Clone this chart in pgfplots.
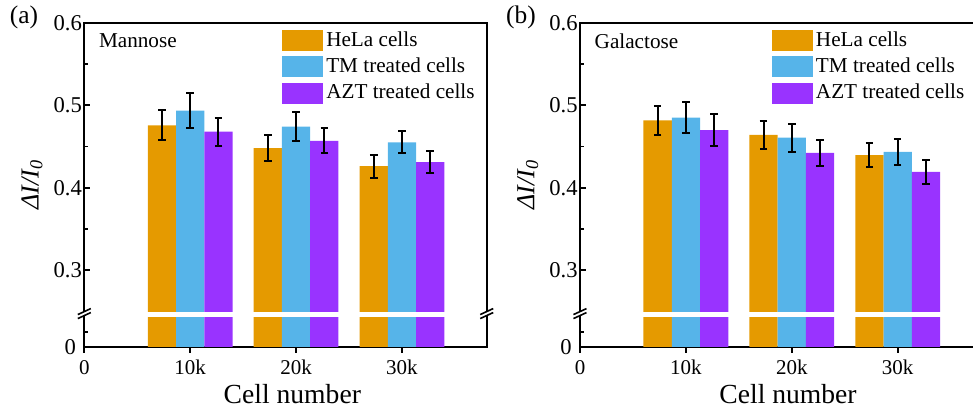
\documentclass[border=0pt]{standalone}
\usepackage{fontspec}
\setmainfont{Liberation Serif}
\usepackage{pgfplots}
\pgfplotsset{compat=1.18}
\definecolor{cor}{RGB}{229,154,0}
\definecolor{cbl}{RGB}{86,180,233}
\definecolor{cpu}{RGB}{153,51,255}
\newcommand{\brk}[1]{%
 \fill[white] ([shift={(-3.25pt,-2.5pt)}]axis cs:#1,0.2475) -- ([shift={(3.25pt,0.5pt)}]axis cs:#1,0.2475) -- ([shift={(3.25pt,2.5pt)}]axis cs:#1,0.2475) -- ([shift={(-3.25pt,-0.5pt)}]axis cs:#1,0.2475) -- cycle;
 \draw[line width=0.8pt] ([shift={(-3.25pt,-2.5pt)}]axis cs:#1,0.2475) -- ([shift={(3.25pt,0.5pt)}]axis cs:#1,0.2475);
 \draw[line width=0.8pt] ([shift={(-3.25pt,-0.5pt)}]axis cs:#1,0.2475) -- ([shift={(3.25pt,2.5pt)}]axis cs:#1,0.2475);}
\pgfplotsset{
 barleg/.style={legend image code/.code={\fill[##1,draw=none] (0pt,-5.25pt) rectangle (20.5pt,5.25pt);}},
 eb/.style={error bars/y dir=both, error bars/y explicit,
   error bars/error bar style={line width=1pt, black},
   error bars/error mark options={rotate=90, mark size=1.9pt, line width=1pt, black}},
 myaxis/.style={
  scale only axis, width=201.2pt, height=162.15pt, anchor=south west,
  xmin=0, xmax=38, ymin=0.207, ymax=0.6,
  ybar=0pt, bar width=2.67,
  xtick={0,10,20,30}, xticklabels={0,10k,20k,30k},
  ytick={0.3,0.4,0.5,0.6}, yticklabels={0.3,0.4,0.5,0.6},
  extra y ticks={0.207}, extra y tick labels={0},
  extra y tick style={yticklabel style={xshift=-3pt}},
  minor ytick={0.2255,0.35,0.45,0.55},
  xtick pos=bottom, ytick pos=left,
  xtick align=outside, ytick align=inside,
  major tick length=3pt, minor tick length=2pt,
  every tick/.style={black, line width=0.9pt},
  axis line style={line width=0.9pt},
  xticklabel style={font=\fontsize{10.5}{12}\selectfont},
  yticklabel style={font=\fontsize{11.3}{13}\selectfont, inner xsep=1pt},
  /pgf/number format/assume math mode=true,
  xlabel={Cell number},
  ylabel={\itshape ΔI/I\textsubscript{0}},
  xlabel style={at={(axis description cs:0.517,-0.174)}, anchor=base, inner sep=0pt, font=\fontsize{13.8}{15}\selectfont},
  ylabel style={at={(axis description cs:-0.13,0.5)}, anchor=center, font=\fontsize{13}{15}\selectfont},
  clip mode=individual,
  legend cell align=left,
  legend style={draw=none, fill=none, inner sep=0pt, font=\fontsize{10.6}{12}\selectfont, row sep=0.6pt,
     nodes={text height=7.5pt, text depth=2pt, inner sep=1.5pt}},
 }
}
\begin{document}
\begin{tikzpicture}
\useasboundingbox (0,0) rectangle (486.5pt,205pt);
\clip (0,0) rectangle (486.5pt,205pt);
% ---------- panel (a)
\begin{axis}[myaxis, at={(42.15pt,31.5pt)}, legend style={at={(0.491,0.984)}, anchor=north west}]
\addplot[fill=cor, draw=none, barleg, eb] table[x=x, y=y, y error=e, row sep=\\] {x y e\\ 10 0.4756 0.018\\ 20 0.448 0.016\\ 30 0.4261 0.014\\};
\addplot[fill=cbl, draw=none, barleg, eb] table[x=x, y=y, y error=e, row sep=\\] {x y e\\ 10 0.4934 0.021\\ 20 0.4739 0.0175\\ 30 0.4549 0.0134\\};
\addplot[fill=cpu, draw=none, barleg, eb] table[x=x, y=y, y error=e, row sep=\\] {x y e\\ 10 0.4679 0.017\\ 20 0.4569 0.015\\ 30 0.431 0.013\\};
\legend{HeLa cells, TM treated cells, AZT treated cells}
\fill[white] (axis cs:0.5,0.2437) rectangle (axis cs:37.5,0.2497);
\brk{0}
\brk{38}
\node[anchor=west, font=\fontsize{10.6}{12}\selectfont] at (axis description cs:0.019,0.944) {Mannose};
\end{axis}
% ---------- panel (b)
\begin{axis}[myaxis, at={(290pt,31.5pt)}, legend style={at={(0.476,0.984)}, anchor=north west}]
\addplot[fill=cor, draw=none, barleg, eb] table[x=x, y=y, y error=e, row sep=\\] {x y e\\ 10 0.4816 0.018\\ 20 0.4642 0.017\\ 30 0.4395 0.0144\\};
\addplot[fill=cbl, draw=none, barleg, eb] table[x=x, y=y, y error=e, row sep=\\] {x y e\\ 10 0.4849 0.019\\ 20 0.4606 0.017\\ 30 0.4435 0.0156\\};
\addplot[fill=cpu, draw=none, barleg, eb] table[x=x, y=y, y error=e, row sep=\\] {x y e\\ 10 0.4699 0.019\\ 20 0.4423 0.016\\ 30 0.4192 0.0146\\};
\legend{HeLa cells, TM treated cells, AZT treated cells}
\fill[white] (axis cs:0.5,0.2437) rectangle (axis cs:37.5,0.2497);
\brk{0}
\node[anchor=west, font=\fontsize{10.6}{12}\selectfont] at (axis description cs:0.019,0.944) {Galactose};
\end{axis}
\node[font=\fontsize{12.7}{14}\selectfont] at (12pt,196.5pt) {(a)};
\node[font=\fontsize{12.7}{14}\selectfont] at (260.5pt,196.5pt) {(b)};
\end{tikzpicture}
\end{document}
